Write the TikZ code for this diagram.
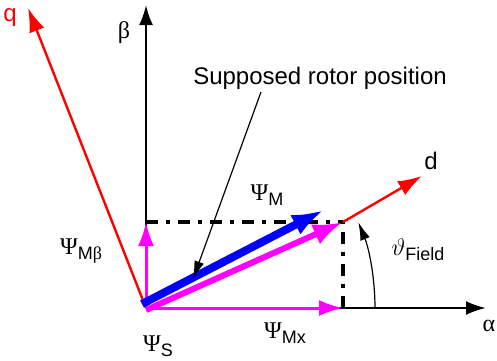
\documentclass[tikz,border=0pt]{standalone}
\usepackage{fontspec}
\setmainfont{Liberation Sans}
\newfontfamily\grk{Liberation Serif}
\usepackage{xcolor}
\usepackage{tikz}
\usetikzlibrary{positioning, arrows.meta}

\definecolor{psimag}{RGB}{255,0,255}
\newcommand{\lowsub}[1]{\raisebox{-2.6pt}{\fontsize{9}{10}\selectfont #1}}
\tikzset{
    axis/.style={line width=1.2pt, -{Latex[length=10pt,width=7pt]}},
    dqaxis/.style={red, line width=1.2pt, -{Latex[length=12pt,width=8pt]}},
    comp/.style={psimag, line width=1.5pt, -{Latex[length=12pt,width=8pt]}},
    proj/.style={line width=1.8pt, dash pattern=on 6pt off 4pt on 2pt off 4pt},
    thin arrow/.style={line width=0.6pt, -{Latex[length=9pt,width=5pt]}},
    lbl/.style={font=\fontsize{12}{14}\selectfont, inner sep=1pt}
}

\begin{document}
\begin{tikzpicture}[x=0.5pt, y=-0.5pt]
        \useasboundingbox (0,0) rectangle (497,360);

        % origin and vector ends
        \coordinate (O) at (146,308);
        \coordinate (alphaend) at (486,308);
        \coordinate (betaend) at (146,5);
        \coordinate (qend) at (28,8);
        \coordinate (S) at (343,222);
        \coordinate (Sx) at (343,308);
        \coordinate (Sy) at (146,222);
        \coordinate (Sstart) at (146,310);
        \coordinate (Mstart) at (142,304);
        \coordinate (M) at (324,210);
        \coordinate (dend) at (422,176);
        \coordinate (lead) at (261,92);
        \coordinate (rotorpos) at (193,279);
        \coordinate (arcstart) at (375,308);

        % axes
        \draw[axis] (O) -- (alphaend);
        \draw[axis] (O) -- (betaend);

        % projections
        \draw[proj] (Sy) -- (S);
        \draw[proj] (Sx) -- (S);

        % flux components
        \draw[comp] (O) -- (Sx);
        \draw[comp] (O) -- (Sy);

        % d/q frame
        \draw[dqaxis] (O) -- (qend);
        \draw[dqaxis] (S) -- (dend);

        % stator and magnet flux
        \draw[psimag, line width=3pt, -{Latex[length=15pt,width=11pt]}] (Sstart) -- (S);
        \draw[blue, line width=4pt, -{Latex[length=16pt,width=11pt]}] (Mstart) -- (M);

        % annotations
        \node[lbl] (rotor) at (320,78) {Supposed rotor position};
        \draw[thin arrow] (lead) -- (rotorpos);
        \draw[thin arrow] (arcstart) arc[start angle=0, end angle=-22, radius=229];

        \node[lbl] (alpha) at (489,326) {\grk α};
        \node[lbl] (beta) at (124,33) {\grk β};
        \node[lbl, red] (q) at (10,18) {q};
        \node[lbl] (d) at (431,161) {d};
        \node[lbl] (psim) at (267,195) {{\grk Ψ}\lowsub{M}};
        \node[lbl] (psimb) at (81,251) {{\grk Ψ}\lowsub{M{\grk β}}};
        \node[lbl] (psis) at (158,346) {{\grk Ψ}\lowsub{S}};
        \node[lbl] (psimx) at (285,333) {{\grk Ψ}\lowsub{Mx}};
        \node[lbl] (theta) at (418,250) {$\vartheta$\lowsub{Field}};
    \end{tikzpicture}
\end{document}
